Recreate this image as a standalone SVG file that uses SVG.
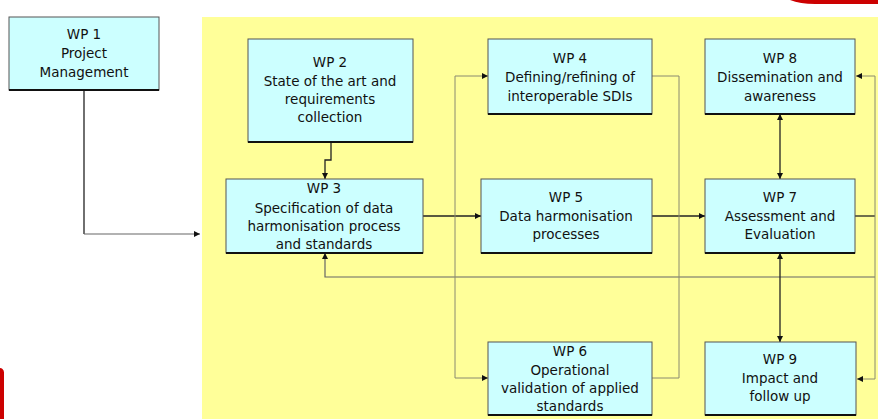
<svg xmlns="http://www.w3.org/2000/svg" width="878" height="419" viewBox="0 0 878 419">
<defs>
<marker id="ah" viewBox="0 0 10 10" refX="10" refY="5" markerWidth="6" markerHeight="6" markerUnits="userSpaceOnUse" orient="auto">
<path d="M0,0 L10,5 L0,10 z" fill="#111"/>
</marker>
</defs>
<style>
.box{fill:#ccffff;stroke:#555;stroke-width:1}
.sh{stroke:#111;stroke-width:2}
.t{font-family:"DejaVu Sans",Verdana,sans-serif;font-size:13.5px;fill:#111;text-anchor:middle}
.dk{fill:none;stroke:#222;stroke-width:1.3}
.lt{fill:none;stroke:#8a8a70;stroke-width:1}
.md{fill:none;stroke:#666;stroke-width:1.2}
</style>
<rect x="0" y="0" width="878" height="419" fill="#ffffff"/>
<rect x="202" y="17" width="676" height="402" fill="#ffff99"/>
<path d="M790,0 Q800,4 815,4 L878,4 L878,0 z" fill="#cc0000"/>
<path d="M0,368 Q3,368 4,372 L4,419 L0,419 z" fill="#cc0000"/>

<g id="connectors">
<path class="dk" d="M84,90 V234"/>
<path class="md" d="M84,234 H200" marker-end="url(#ah)"/>
<path class="dk" d="M331,142 V160 H325 V179" marker-end="url(#ah)"/>
<path class="dk" d="M423,216 H481" marker-end="url(#ah)"/>
<path class="dk" d="M652,216 H705" marker-end="url(#ah)"/>
<path class="dk" d="M855,216 H875"/>
<path class="md" d="M875,277 H325 V253" marker-end="url(#ah)"/>
<path class="lt" d="M455,76 H488" marker-end="url(#ah)"/>
<path class="lt" d="M455,76 V378 H488" marker-end="url(#ah)"/>
<path class="lt" d="M652,76 H679 V378 H652"/>
<path class="dk" d="M780,146 V114" marker-end="url(#ah)"/>
<path class="dk" d="M780,146 V179" marker-end="url(#ah)"/>
<path class="dk" d="M780,300 V253" marker-end="url(#ah)"/>
<path class="dk" d="M780,300 V342" marker-end="url(#ah)"/>
<path class="lt" d="M875,76 V379"/>
<path class="lt" d="M875,76 H856" marker-end="url(#ah)"/>
<path class="lt" d="M875,379 H857" marker-end="url(#ah)"/>
</g>

<g id="wp1">
<rect class="box" x="9" y="17" width="150" height="73"/>
<line class="sh" x1="9" y1="90" x2="159" y2="90"/>
<text class="t" x="84" y="39">WP 1</text>
<text class="t" x="84" y="58">Project</text>
<text class="t" x="84" y="77">Management</text>
</g>

<g id="wp2">
<rect class="box" x="248" y="39" width="165" height="103"/>
<line class="sh" x1="248" y1="142" x2="413" y2="142"/>
<text class="t" x="330" y="67">WP 2</text>
<text class="t" x="330" y="86">State of the art and</text>
<text class="t" x="330" y="104">requirements</text>
<text class="t" x="330" y="122">collection</text>
</g>

<g id="wp4">
<rect class="box" x="488" y="39" width="164" height="75"/>
<line class="sh" x1="488" y1="114" x2="652" y2="114"/>
<text class="t" x="570" y="63">WP 4</text>
<text class="t" x="570" y="82">Defining/refining of</text>
<text class="t" x="570" y="101">interoperable SDIs</text>
</g>

<g id="wp8">
<rect class="box" x="705" y="39" width="150" height="75"/>
<line class="sh" x1="705" y1="114" x2="855" y2="114"/>
<text class="t" x="780" y="63">WP 8</text>
<text class="t" x="780" y="82">Dissemination and</text>
<text class="t" x="780" y="101">awareness</text>
</g>

<g id="wp3">
<rect class="box" x="226" y="179" width="197" height="74"/>
<line class="sh" x1="226" y1="253" x2="423" y2="253"/>
<text class="t" x="324" y="193">WP 3</text>
<text class="t" x="324" y="213">Specification of data</text>
<text class="t" x="324" y="231">harmonisation process</text>
<text class="t" x="324" y="249">and standards</text>
</g>

<g id="wp5">
<rect class="box" x="481" y="179" width="171" height="74"/>
<line class="sh" x1="481" y1="253" x2="652" y2="253"/>
<text class="t" x="566" y="202">WP 5</text>
<text class="t" x="566" y="221">Data harmonisation</text>
<text class="t" x="566" y="239">processes</text>
</g>

<g id="wp7">
<rect class="box" x="705" y="179" width="150" height="74"/>
<line class="sh" x1="705" y1="253" x2="855" y2="253"/>
<text class="t" x="780" y="202">WP 7</text>
<text class="t" x="780" y="221">Assessment and</text>
<text class="t" x="780" y="239">Evaluation</text>
</g>

<g id="wp6">
<rect class="box" x="488" y="342" width="164" height="73"/>
<line class="sh" x1="488" y1="415" x2="652" y2="415"/>
<text class="t" x="570" y="356">WP 6</text>
<text class="t" x="570" y="375">Operational</text>
<text class="t" x="570" y="393">validation of applied</text>
<text class="t" x="570" y="411">standards</text>
</g>

<g id="wp9">
<rect class="box" x="705" y="342" width="151" height="73"/>
<line class="sh" x1="705" y1="415" x2="856" y2="415"/>
<text class="t" x="780" y="364">WP 9</text>
<text class="t" x="780" y="383">Impact and</text>
<text class="t" x="780" y="401">follow up</text>
</g>
</svg>
